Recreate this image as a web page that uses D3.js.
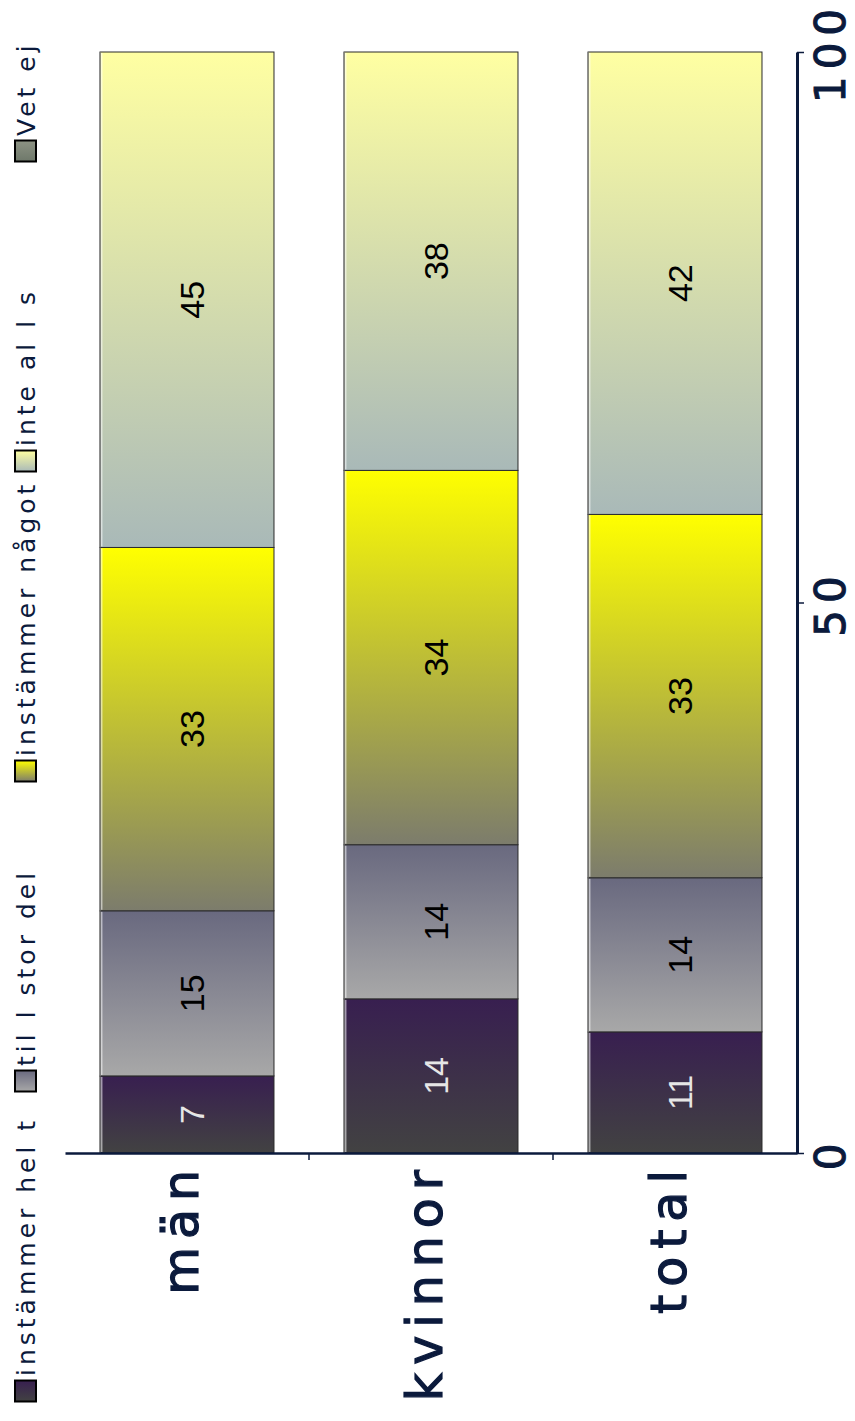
<!DOCTYPE html>
<html>
<head>
<meta charset="utf-8">
<script src="https://cdn.jsdelivr.net/npm/d3@7/dist/d3.min.js"></script>
<style>
  html, body { margin: 0; padding: 0; background: #fff; }
  svg { display: block; }
</style>
</head>
<body>
<svg id="chart" width="855" height="1421"></svg>
<script>
// ---- data ----
const categories = ["män", "kvinnor", "total"];
const seriesNames = ["instämmer hel t", "til l stor del", "instämmer något", "inte al l s", "Vet ej"];
const helt    = [7, 14, 11];
const storDel = [15, 14, 14];
const nagot   = [33, 34, 33];
const inteAls = [45, 38, 42];
const vetEj   = [0, 0, 0];
const valueTicks = [0, 50, 100];

const seriesValues = [helt, storDel, nagot, inteAls, vetEj];
// gradient colours per series: [bottom, top]
const seriesColors = [
  ["#424242", "#381f50"],
  ["#a8a8a8", "#69697f"],
  ["#7c7c6c", "#ffff00"],
  ["#a9b9b8", "#ffffa2"],
  ["#6e786a", "#8d9384"]
];
const labelColors = ["#e6e6e6", "#000", "#000", "#000", "#000"];

// ---- layout ----
const W = 855, H = 1421;
const navy = "#0b1a3c";
const svg = d3.select("#chart");
const defs = svg.append("defs");

seriesColors.forEach((c, i) => {
  const g = defs.append("linearGradient").attr("id", "g" + i)
    .attr("x1", 0).attr("y1", 1).attr("x2", 0).attr("y2", 0);
  g.append("stop").attr("offset", "0%").attr("stop-color", c[0]);
  g.append("stop").attr("offset", "100%").attr("stop-color", c[1]);
});

const x = d3.scaleBand().domain(categories).range([65, 797])
  .paddingInner(0.287).paddingOuter(0.1435);
const y = d3.scaleLinear().domain([0, 100]).range([1153, 52]);

// stacked data
const rows = categories.map((c, ci) => {
  const r = { cat: c };
  seriesNames.forEach((s, si) => r[s] = seriesValues[si][ci]);
  return r;
});
const stack = d3.stack().keys(seriesNames)(rows);

const bars = svg.append("g");
stack.forEach((layer, si) => {
  layer.forEach((d) => {
    const v = d[1] - d[0];
    if (v <= 0) return;
    const bx = x(d.data.cat), bw = x.bandwidth();
    const y0 = y(d[0]), y1 = y(d[1]);
    bars.append("rect")
      .attr("x", bx).attr("y", y1)
      .attr("width", bw).attr("height", y0 - y1)
      .attr("fill", `url(#g${si})`)
      .attr("stroke", "#2a2a2a").attr("stroke-width", 1);
    bars.append("line")
      .attr("x1", bx + 1.8).attr("x2", bx + 1.8)
      .attr("y1", y1 + 1).attr("y2", y0 - 1)
      .attr("stroke", "#ffffff").attr("stroke-opacity", 0.8).attr("stroke-width", 1);
    bars.append("line")
      .attr("x1", bx).attr("x2", bx)
      .attr("y1", y1).attr("y2", y0)
      .attr("stroke", "#8a8a8a").attr("stroke-width", 1.2);
    const cx = bx + bw / 2 + 17, cy = (y0 + y1) / 2;
    bars.append("text")
      .attr("transform", `translate(${cx},${cy}) rotate(-90)`)
      .attr("text-anchor", "middle")
      .attr("font-family", "Liberation Sans, Arial, sans-serif")
      .attr("font-size", 34)
      .attr("fill", labelColors[si])
      .text(v);
  });
});

// category axis
const xAxis = svg.append("g").attr("transform", `translate(0,${y(0)})`)
  .call(d3.axisBottom(x).tickSize(0).tickSizeOuter(0));
xAxis.select(".domain").attr("stroke", navy).attr("stroke-width", 2.5);
xAxis.selectAll(".tick text")
  .attr("x", 0).attr("y", 0).attr("dy", null)
  .attr("transform", "translate(11,9) rotate(-90)")
  .attr("text-anchor", "end")
  .attr("font-family", "DejaVu Sans, sans-serif")
  .attr("font-size", 49)
  .attr("letter-spacing", 8)
  .attr("fill", navy)
  .attr("stroke", navy).attr("stroke-width", 1.2);
categories.slice(1).forEach(c => {
  const bx = x(c) - x.step() * x.paddingInner() / 2;
  xAxis.append("line").attr("x1", bx).attr("x2", bx)
    .attr("y1", 0).attr("y2", 7).attr("stroke", navy).attr("stroke-width", 1.5);
});

// value axis
const yAxis = svg.append("g").attr("transform", `translate(797,0)`)
  .call(d3.axisRight(y).tickValues(valueTicks).tickSize(7).tickSizeOuter(0).tickFormat(d3.format("d")));
yAxis.select(".domain").attr("stroke", navy).attr("stroke-width", 3);
yAxis.selectAll(".tick line").attr("stroke", navy).attr("stroke-width", 1.5);
yAxis.selectAll(".tick text")
  .attr("x", 0).attr("y", 0).attr("dy", null)
  .attr("transform", "translate(48,0) rotate(-90)")
  .attr("text-anchor", "middle")
  .attr("font-family", "DejaVu Sans, sans-serif")
  .attr("font-size", 42)
  .attr("letter-spacing", 7)
  .attr("fill", navy)
  .attr("stroke", navy).attr("stroke-width", 1);

// legend
const legend = svg.append("g");
const legStartY = 1391, legStep = 310, sq = 21, legX = 15;
seriesNames.forEach((s, i) => {
  const cy = legStartY - i * legStep;
  legend.append("rect")
    .attr("x", legX).attr("y", cy - sq / 2)
    .attr("width", sq).attr("height", sq)
    .attr("fill", `url(#g${i})`)
    .attr("stroke", "#000").attr("stroke-width", 2);
  legend.append("text")
    .attr("transform", `translate(${legX + sq - 1},${cy - 15}) rotate(-90)`)
    .attr("text-anchor", "start")
    .attr("font-family", "DejaVu Sans, sans-serif")
    .attr("font-size", 25)
    .attr("letter-spacing", 4)
    .attr("fill", navy)
    .text(s);
});
</script>
</body>
</html>
